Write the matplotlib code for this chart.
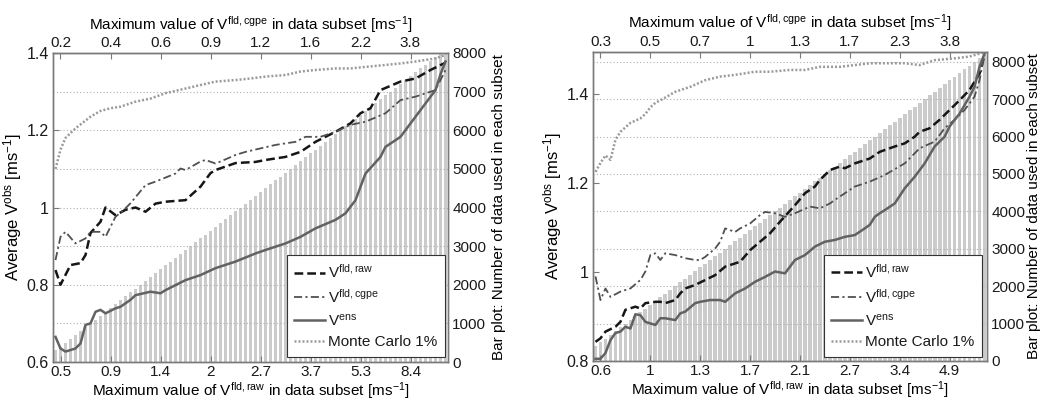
import numpy as np
import matplotlib
matplotlib.use('Agg')
import matplotlib.pyplot as plt

plt.rcParams['font.family'] = ['Liberation Sans', 'DejaVu Sans']
plt.rcParams['mathtext.fontset'] = 'custom'
plt.rcParams['mathtext.rm'] = 'Liberation Sans'
plt.rcParams['mathtext.it'] = 'Liberation Sans:italic'
plt.rcParams['text.color'] = '#1a1a1a'
plt.rcParams['xtick.color'] = '#1a1a1a'
plt.rcParams['ytick.color'] = '#1a1a1a'

# ---------------- data: left panel ----------------
bars_left = [300, 400, 500, 600, 700, 800, 900, 1000, 1100, 1200,
             1300, 1400, 1500, 1600, 1700, 1800, 1900, 2000, 2100, 2200,
             2300, 2400, 2500, 2600, 2700, 2800, 2900, 3000, 3100, 3200,
             3300, 3400, 3500, 3600, 3700, 3800, 3900, 4000, 4100, 4200,
             4300, 4400, 4500, 4600, 4700, 4800, 4900, 5000, 5100, 5200,
             5300, 5400, 5500, 5600, 5700, 5800, 5900, 6000, 6100, 6200,
             6300, 6400, 6500, 6600, 6700, 6800, 6900, 7000, 7100, 7200,
             7300, 7400, 7500, 7600, 7700, 7800, 7900, 8000, 8100]
bottom_labels_left = ['0.5', '0.9', '1.4', '2', '2.7', '3.7', '5.3', '8.4']
top_labels_left = ['0.2', '0.4', '0.6', '0.9', '1.2', '1.6', '2.2', '3.8']

raw_left_i = [1, 2, 4, 6, 7, 8, 10, 11, 13, 15, 17, 19, 21, 23, 27, 30, 32, 33,
              37, 41, 43, 47, 50, 53, 57, 60, 62, 64, 66, 70, 73, 76, 79]
raw_left_v = [0.838, 0.800, 0.851, 0.856, 0.877, 0.934, 0.963, 1.000, 0.980,
              0.994, 1.000, 0.989, 1.010, 1.015, 1.019, 1.054, 1.089, 1.097,
              1.115, 1.118, 1.123, 1.131, 1.144, 1.170, 1.196, 1.218, 1.244,
              1.257, 1.304, 1.326, 1.334, 1.356, 1.375]

cgpe_left_i = [1, 2, 3, 5, 7, 8, 10, 11, 13, 15, 16, 19, 21, 25, 26, 27, 30, 31,
               33, 34, 37, 39, 42, 45, 49, 51, 54, 57, 60, 63, 67, 70, 73, 77, 79]
cgpe_left_v = [0.864, 0.924, 0.937, 0.907, 0.920, 0.937, 0.937, 0.924, 0.976,
               0.998, 1.011, 1.058, 1.067, 1.088, 1.101, 1.097, 1.119, 1.123,
               1.114, 1.119, 1.136, 1.144, 1.153, 1.162, 1.170, 1.183, 1.183,
               1.196, 1.214, 1.222, 1.244, 1.278, 1.287, 1.304, 1.356]

ens_left_i = [1, 2, 3, 5, 6, 7, 8, 9, 10, 11, 13, 14, 16, 17, 20, 22, 23, 27, 30,
              33, 37, 41, 43, 47, 50, 53, 57, 59, 61, 63, 66, 67, 70, 73, 77, 78, 79]
ens_left_v = [0.665, 0.635, 0.627, 0.635, 0.648, 0.696, 0.700, 0.730, 0.735,
              0.726, 0.739, 0.743, 0.761, 0.773, 0.782, 0.778, 0.786, 0.812,
              0.825, 0.843, 0.860, 0.881, 0.890, 0.907, 0.924, 0.946, 0.968,
              0.985, 1.019, 1.088, 1.131, 1.157, 1.183, 1.235, 1.304, 1.345, 1.378]

mc_left_i = [1, 2, 3, 5, 8, 10, 12, 14, 17, 20, 23, 27, 30, 33, 37, 40, 43, 47,
             50, 53, 57, 60, 63, 67, 70, 73, 77, 79]
mc_left_v = [1.100, 1.150, 1.180, 1.205, 1.235, 1.250, 1.257, 1.261, 1.274,
             1.282, 1.296, 1.308, 1.317, 1.326, 1.330, 1.334, 1.339, 1.343,
             1.352, 1.356, 1.360, 1.360, 1.364, 1.369, 1.373, 1.378, 1.386, 1.395]

# ---------------- data: right panel ----------------
bars_right = [400, 500, 600, 700, 800, 900, 1000, 1100, 1200, 1300,
              1400, 1500, 1600, 1700, 1800, 1900, 2000, 2100, 2200, 2300,
              2400, 2500, 2600, 2700, 2800, 2900, 3000, 3100, 3200, 3300,
              3400, 3500, 3600, 3700, 3800, 3900, 4000, 4100, 4200, 4300,
              4400, 4500, 4600, 4700, 4800, 4900, 5000, 5100, 5200, 5300,
              5400, 5500, 5600, 5700, 5800, 5900, 6000, 6100, 6200, 6300,
              6400, 6500, 6600, 6700, 6800, 6900, 7000, 7100, 7200, 7300,
              7400, 7500, 7600, 7700, 7800, 7900, 8000, 8100, 8200]
bottom_labels_right = ['0.6', '1', '1.3', '1.7', '2.1', '2.7', '3.4', '4.9']
top_labels_right = ['0.3', '0.5', '0.7', '1', '1.3', '1.7', '2.3', '3.8']

raw_right_i = [1, 2, 3, 5, 6, 7, 9, 10, 11, 13, 14, 15, 17, 18, 19, 21, 23, 25,
               27, 30, 32, 34, 36, 38, 41, 43, 45, 46, 48, 50, 51, 53, 56, 58,
               61, 63, 65, 66, 68, 70, 72, 74, 76, 78, 79]
raw_right_v = [0.843, 0.851, 0.866, 0.877, 0.888, 0.915, 0.922, 0.918, 0.930,
               0.933, 0.933, 0.930, 0.937, 0.952, 0.963, 0.971, 0.982, 0.993,
               1.012, 1.023, 1.049, 1.068, 1.087, 1.113, 1.150, 1.177, 1.192,
               1.207, 1.229, 1.237, 1.233, 1.244, 1.255, 1.270, 1.282, 1.289,
               1.304, 1.315, 1.323, 1.342, 1.364, 1.386, 1.409, 1.446, 1.488]

cgpe_right_i = [1, 2, 3, 4, 6, 8, 10, 11, 12, 13, 14, 15, 17, 19, 21, 22, 23,
                25, 26, 27, 29, 30, 32, 34, 35, 37, 39, 41, 44, 46, 48, 49, 53,
                56, 59, 63, 66, 69, 71, 73, 75, 77, 78, 79]
cgpe_right_v = [0.990, 0.937, 0.963, 0.944, 0.956, 0.963, 0.982, 1.001, 1.038,
                1.042, 1.027, 1.042, 1.038, 1.031, 1.027, 1.027, 1.034, 1.053,
                1.068, 1.098, 1.090, 1.098, 1.109, 1.128, 1.135, 1.132, 1.124,
                1.132, 1.147, 1.143, 1.154, 1.162, 1.192, 1.203, 1.218, 1.244,
                1.278, 1.293, 1.323, 1.342, 1.364, 1.394, 1.431, 1.488]

ens_right_i = [1, 2, 3, 4, 5, 6, 7, 8, 9, 10, 11, 13, 14, 15, 17, 18, 19, 21,
               22, 24, 26, 27, 29, 31, 33, 35, 37, 39, 40, 41, 43, 45, 47, 49,
               51, 53, 55, 56, 57, 58, 59, 61, 63, 65, 67, 69, 71, 72, 74, 76,
               77, 78, 79]
ens_right_v = [0.805, 0.805, 0.818, 0.847, 0.863, 0.866, 0.877, 0.873, 0.905,
               0.903, 0.888, 0.881, 0.896, 0.896, 0.892, 0.907, 0.911, 0.930,
               0.933, 0.937, 0.937, 0.933, 0.952, 0.963, 0.978, 0.989, 1.001,
               0.997, 1.012, 1.027, 1.038, 1.057, 1.068, 1.072, 1.079, 1.083,
               1.098, 1.106, 1.124, 1.132, 1.139, 1.154, 1.188, 1.214, 1.244,
               1.282, 1.304, 1.327, 1.356, 1.394, 1.416, 1.461, 1.491]

mc_right_i = [1, 2, 3, 4, 5, 6, 7, 8, 10, 11, 12, 13, 15, 17, 20, 23, 26, 29,
              33, 36, 40, 43, 46, 50, 53, 56, 60, 63, 66, 69, 73, 76, 79]
mc_right_v = [1.225, 1.245, 1.262, 1.252, 1.297, 1.315, 1.325, 1.335, 1.345,
              1.355, 1.370, 1.380, 1.392, 1.405, 1.416, 1.431, 1.439, 1.443,
              1.450, 1.450, 1.454, 1.454, 1.461, 1.461, 1.465, 1.469, 1.469,
              1.469, 1.465, 1.476, 1.480, 1.484, 1.494]

tick_pos = [2, 12, 22, 32, 42, 52, 62, 72]

fig = plt.figure(figsize=(10.41, 4.03), dpi=100)

SPINE = '#7a7a7a'


def panel(rect, bars, ylim_left, ylim_right, yticks_left, bl, tl,
          raw, cgpe, ens, mc, leg_anchor, rlabel_pad):
    ax = fig.add_axes(rect)           # bars, right axis
    ax2 = ax.twinx()                  # lines, left axis
    n = len(bars)
    idx = np.arange(1, n + 1)
    ax.bar(idx, bars, width=0.76, color='#cbcbcb', edgecolor='none', zorder=1)
    ax.set_xlim(0.5, n + 0.5)
    ax.set_ylim(*ylim_right)
    ax.set_yticks(range(0, 9000, 1000))
    ax.yaxis.tick_right()
    ax.yaxis.set_label_position('right')
    ax.set_axisbelow(False)
    ax.grid(axis='y', linestyle=(0, (1, 2)), color='#b0b0b0', linewidth=0.8)
    ax.set_ylabel('Bar plot: Number of data used in each subset', fontsize=11,
                  labelpad=rlabel_pad)
    ax.tick_params(axis='y', length=0, labelsize=11, pad=3)

    ax2.yaxis.tick_left()
    ax2.yaxis.set_label_position('left')
    ax2.set_ylim(*ylim_left)
    ax2.set_yticks(yticks_left)
    ax2.set_yticklabels([('%g' % v) for v in yticks_left])
    ax2.tick_params(axis='y', direction='in', length=4, labelsize=11.5, pad=3,
                    color=SPINE)
    ax2.set_ylabel(r'Average V$^{\mathrm{obs}}$ [ms$^{\mathrm{-1}}$]',
                   fontsize=12, labelpad=2)

    ax.set_xticks(tick_pos)
    ax.set_xticklabels(bl)
    ax.tick_params(axis='x', direction='in', length=4, labelsize=11, pad=2,
                   color=SPINE)
    ax.set_xlabel(r'Maximum value of V$^{\mathrm{fld,raw}}$ in data subset '
                  r'[ms$^{\mathrm{-1}}$]', fontsize=11, labelpad=1)

    sec = ax.secondary_xaxis('top')
    sec.set_xticks(tick_pos)
    sec.set_xticklabels(tl)
    sec.tick_params(direction='in', length=4, labelsize=11, pad=2, color=SPINE)
    sec.set_xlabel(r'Maximum value of V$^{\mathrm{fld,cgpe}}$ in data subset '
                   r'[ms$^{\mathrm{-1}}$]', fontsize=11, labelpad=5)
    for s in sec.spines.values():
        s.set_color(SPINE)

    for a in (ax, ax2):
        for s in a.spines.values():
            s.set_color(SPINE)
            s.set_linewidth(1.0)

    h1, = ax2.plot(raw[0], raw[1], color='#161616', lw=1.8,
                   linestyle=(0, (3.5, 1.6)), label=r'V$^{\mathrm{fld,raw}}$')
    h2, = ax2.plot(cgpe[0], cgpe[1], color='#505050', lw=1.3,
                   linestyle=(0, (4.5, 1.8, 1.2, 1.8)),
                   label=r'V$^{\mathrm{fld,cgpe}}$')
    h3, = ax2.plot(ens[0], ens[1], color='#626262', lw=1.8, linestyle='-',
                   label=r'V$^{\mathrm{ens}}$')
    h4, = ax2.plot(mc[0], mc[1], color='#9a9a9a', lw=1.8,
                   linestyle=(0, (0.8, 0.8)), label='Monte Carlo 1%')
    leg = ax2.legend(handles=[h1, h2, h3, h4], loc='lower right',
                     bbox_to_anchor=leg_anchor, borderaxespad=0, fontsize=11,
                     frameon=True, fancybox=False, handlelength=2.0,
                     handletextpad=0.2, labelspacing=0.45, borderpad=0.5)
    leg.get_frame().set_edgecolor('#333333')
    leg.get_frame().set_linewidth(0.8)
    leg.get_frame().set_alpha(1)
    return ax, ax2


panel([53 / 1041, 41 / 403, 395 / 1041, 309 / 403], bars_left,
      (0.6, 1.4), (0, 8000), [0.6, 0.8, 1.0, 1.2, 1.4],
      bottom_labels_left, top_labels_left,
      (raw_left_i, raw_left_v), (cgpe_left_i, cgpe_left_v),
      (ens_left_i, ens_left_v), (mc_left_i, mc_left_v), (0.992, 0.016), 4)

panel([593 / 1041, 42 / 403, 394 / 1041, 309.3 / 403], bars_right,
      (0.8, 1.495), (0, 8270), [0.8, 1.0, 1.2, 1.4],
      bottom_labels_right, top_labels_right,
      (raw_right_i, raw_right_v), (cgpe_right_i, cgpe_right_v),
      (ens_right_i, ens_right_v), (mc_right_i, mc_right_v), (0.987, 0.013), 1)

fig.savefig('out.png', dpi=100)
